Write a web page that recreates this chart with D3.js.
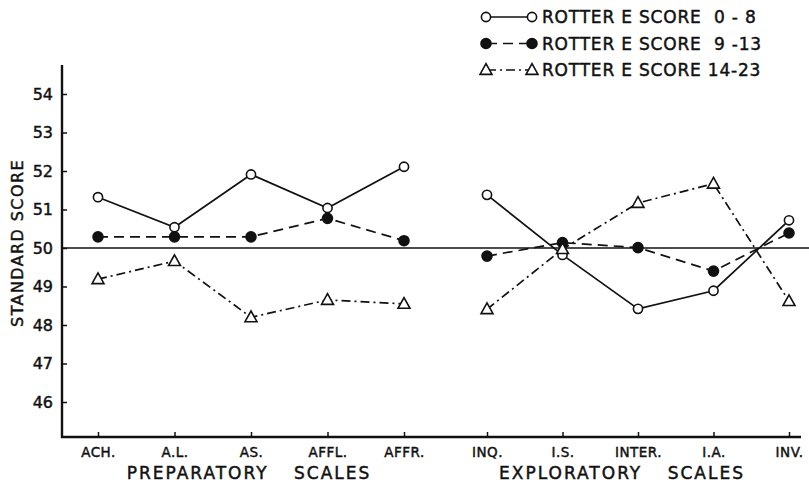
<!DOCTYPE html>
<html>
<head>
<meta charset="utf-8">
<script src="https://cdn.jsdelivr.net/npm/d3@7"></script>
<style>
  body { margin: 0; background: #fff; }
  svg { display: block; }
  text {
    font-family: 'DejaVu Sans', sans-serif;
    fill: #111;
    stroke: #111;
    stroke-width: 0.45;
  }
</style>
</head>
<body>
<div id="chart"></div>
<script>
// scale names along the bottom, two groups
const prepCats = ['ACH.', 'A.L.', 'AS.', 'AFFL.', 'AFFR.'];
const explCats = ['INQ.', 'I.S.', 'INTER.', 'I.A.', 'INV.'];

// standard scores, prep scales first then exploratory
const score0to8 = [51.32, 50.54, 51.91, 51.04, 52.11, 51.38, 49.82, 48.42, 48.89, 50.72];
const score9to13 = [50.29, 50.29, 50.29, 50.77, 50.19, 49.79, 50.14, 50.01, 49.40, 50.39];
const score14to23 = [49.19, 49.66, 48.20, 48.65, 48.55, 48.41, 49.97, 51.17, 51.67, 48.62];

const yTicks = [46, 47, 48, 49, 50, 51, 52, 53, 54];
const seriesNames = ['ROTTER E SCORE  0 - 8', 'ROTTER E SCORE  9 -13', 'ROTTER E SCORE 14-23'];

const W = 809, H = 485;
const INK = '#111';

const svg = d3.select('#chart').append('svg')
  .attr('width', W)
  .attr('height', H);

const y = d3.scaleLinear().domain([46, 54]).range([402, 94]);
const xPrep = d3.scalePoint().domain(prepCats).range([98, 404]);
const xExpl = d3.scalePoint().domain(explCats).range([487, 789]);

const axisX = 62, axisTop = 65, axisBottom = 437, axisRight = 801;

// y axis
const yAxis = svg.append('g')
  .attr('transform', `translate(${axisX},0)`)
  .call(d3.axisLeft(y).tickValues(yTicks).tickSize(-5).tickPadding(9).tickFormat(d3.format('d')));
yAxis.select('.domain').remove();
yAxis.selectAll('.tick line').attr('stroke', INK).attr('stroke-width', 1.5);
yAxis.selectAll('.tick text')
  .attr('font-size', 16)
  .attr('fill', INK);

// x axes (ticks point up)
function xAxisGroup(scale) {
  const g = svg.append('g')
    .attr('transform', `translate(0,${axisBottom})`)
    .call(d3.axisBottom(scale).tickSize(-5).tickPadding(10));
  g.select('.domain').remove();
  g.selectAll('.tick line').attr('stroke', INK).attr('stroke-width', 1.5);
  g.selectAll('.tick text')
    .attr('font-size', 13.5)
    .attr('letter-spacing', 0.5)
    .attr('fill', INK);
  return g;
}
xAxisGroup(xPrep);
xAxisGroup(xExpl);

// axis lines
svg.append('line')
  .attr('x1', axisX).attr('x2', axisX)
  .attr('y1', axisTop).attr('y2', axisBottom + 1)
  .attr('stroke', INK).attr('stroke-width', 2.4);
svg.append('line')
  .attr('x1', axisX - 1).attr('x2', axisRight)
  .attr('y1', axisBottom).attr('y2', axisBottom)
  .attr('stroke', INK).attr('stroke-width', 2.4);

// reference line at 50
svg.append('line')
  .attr('x1', axisX).attr('x2', W)
  .attr('y1', y(50)).attr('y2', y(50))
  .attr('stroke', INK).attr('stroke-width', 1.3);

// axis titles
svg.append('text')
  .attr('transform', `translate(23,${y(50) - 5}) rotate(-90)`)
  .attr('text-anchor', 'middle')
  .attr('font-size', 16)
  .attr('letter-spacing', 1.4)
  .text('STANDARD SCORE');

svg.append('text')
  .attr('x', 249).attr('y', 479)
  .attr('text-anchor', 'middle')
  .attr('font-size', 17)
  .attr('letter-spacing', 2)
  .attr('word-spacing', 18)
  .text('PREPARATORY SCALES');

svg.append('text')
  .attr('x', 622).attr('y', 479)
  .attr('text-anchor', 'middle')
  .attr('font-size', 17)
  .attr('letter-spacing', 2)
  .attr('word-spacing', 18)
  .text('EXPLORATORY SCALES');

// series styles
const series = [
  {name: seriesNames[0], values: score0to8, dash: null, marker: 'open'},
  {name: seriesNames[1], values: score9to13, dash: '10,6', marker: 'filled'},
  {name: seriesNames[2], values: score14to23, dash: '9,4,2,4', marker: 'triangle'}
];

const line = d3.line().x(d => d.x).y(d => d.y);

function points(values) {
  const pts = [];
  prepCats.forEach((c, i) => pts.push({x: xPrep(c), y: y(values[i]), group: 0}));
  explCats.forEach((c, i) => pts.push({x: xExpl(c), y: y(values[i + 5]), group: 1}));
  return pts;
}

function drawMarker(g, kind, x0, y0) {
  if (kind === 'triangle') {
    const s = 6.3;
    g.append('path')
      .attr('d', `M${x0},${y0 - s} L${x0 + s * 0.95},${y0 + s * 0.7} L${x0 - s * 0.95},${y0 + s * 0.7} Z`)
      .attr('fill', '#fff')
      .attr('stroke', INK)
      .attr('stroke-width', 1.6);
  } else {
    g.append('circle')
      .attr('cx', x0).attr('cy', y0)
      .attr('r', kind === 'filled' ? 5 : 4.6)
      .attr('fill', kind === 'filled' ? INK : '#fff')
      .attr('stroke', INK)
      .attr('stroke-width', 1.6);
  }
}

// lines first, markers on top
series.forEach(s => {
  const pts = points(s.values);
  [0, 1].forEach(grp => {
    svg.append('path')
      .attr('d', line(pts.filter(p => p.group === grp)))
      .attr('fill', 'none')
      .attr('stroke', INK)
      .attr('stroke-width', 1.7)
      .attr('stroke-dasharray', s.dash);
  });
});
series.forEach(s => {
  const g = svg.append('g');
  points(s.values).forEach(p => drawMarker(g, s.marker, p.x, p.y));
});

// legend
const legend = svg.append('g');
series.forEach((s, i) => {
  const ly = 17 + i * 26.5;
  legend.append('line')
    .attr('x1', 487).attr('x2', 531)
    .attr('y1', ly).attr('y2', ly)
    .attr('stroke', INK)
    .attr('stroke-width', 1.7)
    .attr('stroke-dasharray', s.dash);
  drawMarker(legend, s.marker, 486, ly);
  drawMarker(legend, s.marker, 532, ly);
  legend.append('text')
    .attr('x', 542).attr('y', ly)
    .attr('dy', '0.36em')
    .attr('font-size', 17)
    .attr('letter-spacing', 0.8)
    .style('white-space', 'pre')
    .text(s.name);
});
</script>
</body>
</html>
